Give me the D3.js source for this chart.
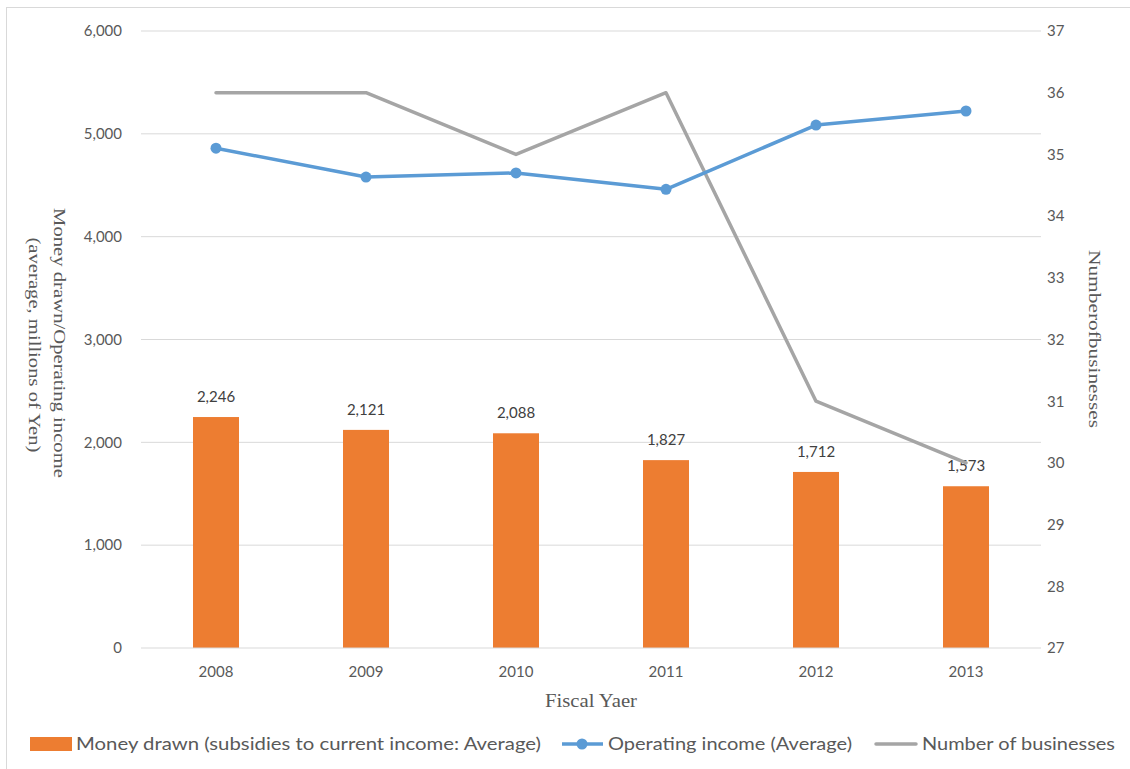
<!DOCTYPE html>
<html><head><meta charset="utf-8">
<script src="https://cdn.jsdelivr.net/npm/d3@7"></script>
<style>body{margin:0;background:#fff}svg{display:block}</style>
</head><body>
<svg id="c" width="1130" height="769"></svg>
<script>
const years = ["2008","2009","2010","2011","2012","2013"];
const moneyDrawn = [2246,2121,2088,1827,1712,1573];
const operatingIncome = [4860,4580,4620,4460,5085,5222];
const businesses = [36,36,35,36,31,30];
const leftTicks = [0,1000,2000,3000,4000,5000,6000];
const rightTicks = [27,28,29,30,31,32,33,34,35,36,37];

const svg = d3.select("#c");
const sans = "Lato, 'Open Sans', sans-serif";
const serif = "'Liberation Serif', 'DejaVu Serif', serif";
svg.append("rect").attr("x",6.5).attr("y",7.5).attr("width",1130).attr("height",770)
  .attr("fill","#fff").attr("stroke","#d9d9d9");

const L=141, R=1041, T=31, B=648;
const x = d3.scaleBand().domain(years).range([L,R]);
const yL = d3.scaleLinear().domain([0,6000]).range([B,T]);
const yR = d3.scaleLinear().domain([27,37]).range([B,T]);
const cx = d => x(d)+x.bandwidth()/2;

// gridlines
svg.append("g").selectAll("line").data(leftTicks.filter(d=>d>0)).join("line")
  .attr("x1",L).attr("x2",R).attr("y1",d=>yL(d)).attr("y2",d=>yL(d))
  .attr("stroke","#d9d9d9").attr("stroke-width",1);

// left axis
const ax = svg.append("g").attr("transform",`translate(${L-19},0)`)
  .call(d3.axisLeft(yL).tickValues(leftTicks).tickFormat(d3.format(",")).tickSize(0).tickPadding(0));
ax.select(".domain").remove();
ax.selectAll("text").attr("font-family",sans).attr("font-size",15).attr("fill","#595959");

// right axis
const ar = svg.append("g").attr("transform",`translate(${R+6},0)`)
  .call(d3.axisRight(yR).tickValues(rightTicks).tickSize(0).tickPadding(0));
ar.select(".domain").remove();
ar.selectAll("text").attr("font-family",sans).attr("font-size",15).attr("fill","#595959");

// bars
const bw = 46;
svg.append("g").selectAll("rect").data(years).join("rect")
  .attr("x",(d)=>cx(d)-bw/2).attr("width",bw)
  .attr("y",(d,i)=>yL(moneyDrawn[i])).attr("height",(d,i)=>B-yL(moneyDrawn[i]))
  .attr("fill","#ed7d31");

// bar labels
svg.append("g").selectAll("text").data(years).join("text")
  .attr("x",d=>cx(d)).attr("y",(d,i)=>yL(moneyDrawn[i])-15)
  .attr("text-anchor","middle").attr("font-family",sans).attr("font-size",15).attr("fill","#404040")
  .text((d,i)=>d3.format(",")(moneyDrawn[i]));

// baseline
svg.append("line").attr("x1",L).attr("x2",R).attr("y1",B).attr("y2",B).attr("stroke","#d9d9d9");

// x axis
const axb = svg.append("g").attr("transform",`translate(0,${B+18})`)
  .call(d3.axisBottom(x).tickSize(0).tickPadding(0));
axb.select(".domain").remove();
axb.selectAll("text").attr("font-family",sans).attr("font-size",15).attr("fill","#595959").attr("dy","0.71em");

// businesses line
svg.append("path").datum(years)
  .attr("d",d3.line().x(d=>cx(d)).y((d,i)=>yR(businesses[i])))
  .attr("fill","none").attr("stroke","#a5a5a5").attr("stroke-width",3.5).attr("stroke-linecap","round").attr("stroke-linejoin","round");

// operating income line
svg.append("path").datum(years)
  .attr("d",d3.line().x(d=>cx(d)).y((d,i)=>yL(operatingIncome[i])))
  .attr("fill","none").attr("stroke","#5b9bd5").attr("stroke-width",3.5).attr("stroke-linejoin","round");
svg.append("g").selectAll("circle").data(years).join("circle")
  .attr("cx",d=>cx(d)).attr("cy",(d,i)=>yL(operatingIncome[i])).attr("r",5.5).attr("fill","#5b9bd5");

// axis titles
function vtitle(tx,cy,len,txt){
  svg.append("text").attr("transform",`translate(${tx},${cy}) rotate(90)`)
    .attr("x",-len/2).attr("textLength",len).attr("lengthAdjust","spacingAndGlyphs")
    .attr("font-family",serif).attr("font-size",17).attr("fill","#595959").text(txt);
}
vtitle(54,343,270,"Money drawn/Operating income");
vtitle(29,345,215,"(average, millions of Yen)");
vtitle(1089,339,178,"Numberofbusinesses");
svg.append("text").attr("x",545).attr("y",707).attr("textLength",92).attr("lengthAdjust","spacingAndGlyphs")
  .attr("font-family",serif).attr("font-size",19).attr("fill","#595959")
  .text("Fiscal Yaer");

// legend
const lg = svg.append("g").attr("font-family",sans).attr("font-size",18).attr("fill","#595959");
lg.append("rect").attr("x",30).attr("y",737).attr("width",42).attr("height",14).attr("fill","#ed7d31");
lg.append("text").attr("x",76).attr("y",750).attr("textLength",465).attr("lengthAdjust","spacingAndGlyphs")
  .text("Money drawn (subsidies to current income: Average)");
lg.append("line").attr("x1",562).attr("x2",603).attr("y1",744).attr("y2",744).attr("stroke","#5b9bd5").attr("stroke-width",3.5);
lg.append("circle").attr("cx",582).attr("cy",744).attr("r",5.5).attr("fill","#5b9bd5");
lg.append("text").attr("x",608).attr("y",750).attr("textLength",244).attr("lengthAdjust","spacingAndGlyphs")
  .text("Operating income (Average)");
lg.append("line").attr("x1",876).attr("x2",916).attr("y1",744).attr("y2",744).attr("stroke","#a5a5a5").attr("stroke-width",3.5).attr("stroke-linecap","round");
lg.append("text").attr("x",922).attr("y",750).attr("textLength",193).attr("lengthAdjust","spacingAndGlyphs")
  .text("Number of businesses");
</script>
</body></html>
